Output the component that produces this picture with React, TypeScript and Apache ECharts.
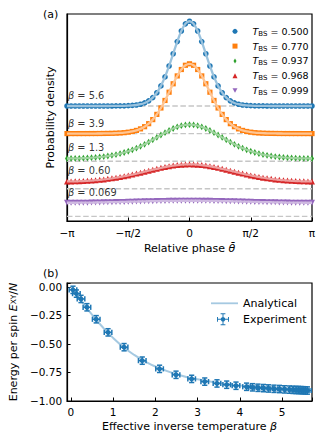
import React, { useEffect, useRef } from 'react';
import * as echarts from 'echarts';

// ---------- Panel (a) data ----------
const THETA_DEG = [-180, -174, -168, -162, -156, -150, -144, -138, -132, -126, -120, -114, -108, -102, -96, -90, -84, -78, -72, -66, -60, -54, -48, -42, -36, -30, -24, -18, -12, -6, 0, 6, 12, 18, 24, 30, 36, 42, 48, 54, 60, 66, 72, 78, 84, 90, 96, 102, 108, 114, 120, 126, 132, 138, 144, 150, 156, 162, 168, 174, 180];
const THETA_TICKS = [-180, -90, 0, 90, 180];
const THETA_TICK_LABELS = ['−π', '−π/2', '0', 'π/2', 'π'];

const T_BS = ['0.500', '0.770', '0.937', '0.968', '0.999'];
const BETA_LABELS = ['5.6', '3.9', '1.3', '0.60', '0.069'];
const OFFSETS = [1.2, 0.9, 0.6, 0.3, 0];

const DENSITY_0500 = [0, 0, 0, 0, 0, 0, 0, 0.0001, 0.0001, 0.0001, 0.0002, 0.0003, 0.0006, 0.0011, 0.0019, 0.0034, 0.0061, 0.0109, 0.0192, 0.0332, 0.0560, 0.0916, 0.1444, 0.2186, 0.3161, 0.4350, 0.5676, 0.7003, 0.8150, 0.8933, 0.9211, 0.8933, 0.8150, 0.7003, 0.5676, 0.4350, 0.3161, 0.2186, 0.1444, 0.0916, 0.0560, 0.0332, 0.0192, 0.0109, 0.0061, 0.0034, 0.0019, 0.0011, 0.0006, 0.0003, 0.0002, 0.0001, 0.0001, 0.0001, 0, 0, 0, 0, 0, 0, 0];
const DENSITY_0770 = [0.0003, 0.0003, 0.0003, 0.0004, 0.0004, 0.0005, 0.0007, 0.0008, 0.0011, 0.0016, 0.0022, 0.0031, 0.0046, 0.0068, 0.0102, 0.0154, 0.0231, 0.0346, 0.0513, 0.0750, 0.1079, 0.1520, 0.2088, 0.2786, 0.3602, 0.4500, 0.5416, 0.6269, 0.6967, 0.7427, 0.7587, 0.7427, 0.6967, 0.6269, 0.5416, 0.4500, 0.3602, 0.2786, 0.2088, 0.1520, 0.1079, 0.0750, 0.0513, 0.0346, 0.0231, 0.0154, 0.0102, 0.0068, 0.0046, 0.0031, 0.0022, 0.0016, 0.0011, 0.0008, 0.0007, 0.0005, 0.0004, 0.0004, 0.0003, 0.0003, 0.0003];
const DENSITY_0937 = [0.0295, 0.0297, 0.0304, 0.0315, 0.0330, 0.0351, 0.0378, 0.0412, 0.0454, 0.0505, 0.0565, 0.0638, 0.0725, 0.0827, 0.0946, 0.1083, 0.1241, 0.1419, 0.1619, 0.1838, 0.2075, 0.2326, 0.2585, 0.2846, 0.3101, 0.3339, 0.3552, 0.3730, 0.3863, 0.3946, 0.3975, 0.3946, 0.3863, 0.3730, 0.3552, 0.3339, 0.3101, 0.2846, 0.2585, 0.2326, 0.2075, 0.1838, 0.1619, 0.1419, 0.1241, 0.1083, 0.0946, 0.0827, 0.0725, 0.0638, 0.0565, 0.0505, 0.0454, 0.0412, 0.0378, 0.0351, 0.0330, 0.0315, 0.0304, 0.0297, 0.0295];
const DENSITY_0968 = [0.0800, 0.0802, 0.0810, 0.0824, 0.0842, 0.0867, 0.0897, 0.0933, 0.0975, 0.1024, 0.1080, 0.1142, 0.1211, 0.1286, 0.1369, 0.1457, 0.1552, 0.1651, 0.1754, 0.1860, 0.1967, 0.2074, 0.2177, 0.2276, 0.2368, 0.2451, 0.2521, 0.2579, 0.2621, 0.2647, 0.2656, 0.2647, 0.2621, 0.2579, 0.2521, 0.2451, 0.2368, 0.2276, 0.2177, 0.2074, 0.1967, 0.1860, 0.1754, 0.1651, 0.1552, 0.1457, 0.1369, 0.1286, 0.1211, 0.1142, 0.1080, 0.1024, 0.0975, 0.0933, 0.0897, 0.0867, 0.0842, 0.0824, 0.0810, 0.0802, 0.0800];
const DENSITY_0999 = [0.1484, 0.1484, 0.1486, 0.1488, 0.1492, 0.1497, 0.1503, 0.1510, 0.1518, 0.1526, 0.1536, 0.1546, 0.1556, 0.1567, 0.1578, 0.1590, 0.1601, 0.1613, 0.1624, 0.1635, 0.1645, 0.1655, 0.1665, 0.1673, 0.1681, 0.1688, 0.1693, 0.1698, 0.1701, 0.1702, 0.1703, 0.1702, 0.1701, 0.1698, 0.1693, 0.1688, 0.1681, 0.1673, 0.1665, 0.1655, 0.1645, 0.1635, 0.1624, 0.1613, 0.1601, 0.1590, 0.1578, 0.1567, 0.1556, 0.1546, 0.1536, 0.1526, 0.1518, 0.1510, 0.1503, 0.1497, 0.1492, 0.1488, 0.1486, 0.1484, 0.1484];
const DENSITIES = [DENSITY_0500, DENSITY_0770, DENSITY_0937, DENSITY_0968, DENSITY_0999];

// ---------- Panel (b) data ----------
const BETA_EXP = [0.05, 0.13, 0.24, 0.38, 0.60, 0.88, 1.26, 1.69, 2.10, 2.49, 2.86, 3.17, 3.46, 3.69, 3.91, 4.16, 4.30, 4.43, 4.56, 4.68, 4.81, 4.94, 5.06, 5.18, 5.26, 5.33, 5.39, 5.45, 5.50, 5.55, 5.60];
const ENERGY_EXP = [-0.025, -0.058, -0.105, -0.178, -0.283, -0.398, -0.528, -0.646, -0.718, -0.770, -0.806, -0.830, -0.846, -0.857, -0.866, -0.875, -0.880, -0.884, -0.887, -0.890, -0.893, -0.895, -0.898, -0.900, -0.902, -0.903, -0.904, -0.905, -0.906, -0.907, -0.908];
const BETA_ERR = [0.09, 0.09, 0.09, 0.09, 0.09, 0.09, 0.09, 0.09, 0.09, 0.09, 0.09, 0.09, 0.09, 0.09, 0.09, 0.09, 0.09, 0.09, 0.09, 0.09, 0.09, 0.09, 0.09, 0.09, 0.09, 0.09, 0.09, 0.09, 0.09, 0.09, 0.09];
const ENERGY_ERR = [0.032, 0.032, 0.032, 0.032, 0.032, 0.032, 0.032, 0.032, 0.032, 0.032, 0.032, 0.032, 0.032, 0.032, 0.032, 0.032, 0.032, 0.032, 0.032, 0.032, 0.032, 0.032, 0.032, 0.032, 0.032, 0.032, 0.032, 0.032, 0.032, 0.032, 0.032];
const BETA_ANALYTIC = [0, 0.1, 0.25, 0.5, 0.75, 1, 1.25, 1.5, 1.75, 2, 2.5, 3, 3.5, 4, 4.5, 5, 5.6];
const ENERGY_ANALYTIC = [0, -0.0499, -0.1240, -0.2425, -0.3509, -0.4464, -0.5280, -0.5961, -0.6521, -0.6978, -0.7650, -0.8100, -0.8411, -0.8635, -0.8803, -0.8934, -0.9060];

// ---------- styles ----------
const FONT = 'DejaVu Sans';
const COLORS = ['#1f77b4', '#ff7f0e', '#2ca02c', '#d62728', '#9467bd'];
const LIGHT = ['#9ac2dd', '#ffc593', '#a0d4a0', '#ed9e9e', '#cfbae1'];
const ANALYTIC_COLOR = 'rgba(31,119,180,0.4)';
const SYMBOLS = ['circle', 'rect', 'diamond', 'triangle', 'path://M0,0L10,0L5,9Z'];
const SYMBOL_SIZES: any[] = [5.6, 5.2, [4, 6.8], 6, 6];
const LEGEND_ICONS = ['circle', 'rect', 'path://M0,0M10,10M5,0L8,5L5,10L2,5Z', 'triangle', 'path://M0,0L10,0L5,9Z'];
const LINE_ICON = 'path://M0,0M27,14M0,6.1h27v1.8h-27z';
const ERRBAR_ICON = 'path://M0,9.2h20v1.6h-20z M9.2,0h1.6v20h-1.6z M0,6h1.6v8h-1.6z M18.4,6h1.6v8h-1.6z M6,0h8v1.6h-8z M6,18.4h8v1.6h-8z M8.3,6.5h3.4l1.8,1.8v3.4l-1.8,1.8h-3.4l-1.8,-1.8v-3.4z';

const axisLineStyle = { show: true, onZero: false, lineStyle: { color: '#000', width: 1.2 } };

export default function App() {
  const ref = useRef<HTMLDivElement>(null);
  useEffect(() => {
    if (!ref.current) return;
    const chart = echarts.init(ref.current, undefined, { renderer: 'svg' });
    const series: any[] = [];

    // dashed baselines
    OFFSETS.forEach((off, i) => {
      series.push({
        name: 'base' + i, type: 'line', xAxisIndex: 0, yAxisIndex: 0, z: 1, silent: true,
        symbol: 'none', data: [[THETA_DEG[0], off], [THETA_DEG[THETA_DEG.length - 1], off]],
        lineStyle: { color: '#c6c6c6', width: 1.4, type: [5.5, 2.6] },
      });
    });
    DENSITIES.forEach((dens, i) => {
      const pts = THETA_DEG.map((t, j) => [t, dens[j] + OFFSETS[i]]);
      series.push({
        name: T_BS[i], type: 'scatter', xAxisIndex: 0, yAxisIndex: 0, z: 2, silent: true,
        symbol: SYMBOLS[i], symbolSize: SYMBOL_SIZES[i], data: pts,
        itemStyle: { color: COLORS[i], opacity: 1 },
      });
      series.push({
        name: 'fit' + i, type: 'line', xAxisIndex: 0, yAxisIndex: 0, z: 3, silent: true,
        symbol: 'none', data: pts, smooth: 0.3,
        lineStyle: { color: LIGHT[i], width: 2.3 },
      });
      series.push({
        name: 'lab' + i, type: 'scatter', xAxisIndex: 0, yAxisIndex: 0, z: 5, silent: true,
        symbolSize: 0, data: [pts[0]],
        label: {
          show: true, position: 'right', distance: 1, offset: [0, -10.5],
          formatter: '{i|β} = ' + BETA_LABELS[i],
          fontFamily: FONT, fontSize: 9.8, color: '#000',
          rich: { i: { fontFamily: FONT, fontSize: 9.8, fontStyle: 'italic', color: '#000' } },
        },
      });
    });

    // panel (b)
    series.push({
      name: 'Analytical', type: 'line', xAxisIndex: 1, yAxisIndex: 1, z: 1, silent: true,
      symbol: 'none', smooth: true,
      data: BETA_ANALYTIC.map((b, j) => [b, ENERGY_ANALYTIC[j]]),
      lineStyle: { color: ANALYTIC_COLOR, width: 2 },
      itemStyle: { color: ANALYTIC_COLOR },
    });
    series.push({
      name: 'ExperimentErr', type: 'custom', xAxisIndex: 1, yAxisIndex: 1, z: 2, silent: true,
      data: BETA_EXP.map((b, j) => [b, ENERGY_EXP[j], BETA_ERR[j], ENERGY_ERR[j]]),
      encode: { x: 0, y: 1 },
      renderItem: (params: any, api: any) => {
        const x = api.value(0), y = api.value(1), dx = api.value(2), dy = api.value(3);
        const l = api.coord([x - dx, y]);
        const r = api.coord([x + dx, y]);
        const t = api.coord([x, y + dy]);
        const b = api.coord([x, y - dy]);
        const cap = 2.6;
        const style = { stroke: COLORS[0], lineWidth: 1.5 };
        const ln = (x1: number, y1: number, x2: number, y2: number) => ({ type: 'line', shape: { x1, y1, x2, y2 }, style });
        return {
          type: 'group',
          children: [
            ln(l[0], l[1], r[0], r[1]),
            ln(t[0], t[1], b[0], b[1]),
            ln(l[0], l[1] - cap, l[0], l[1] + cap),
            ln(r[0], r[1] - cap, r[0], r[1] + cap),
            ln(t[0] - cap, t[1], t[0] + cap, t[1]),
            ln(b[0] - cap, b[1], b[0] + cap, b[1]),
          ],
        };
      },
    });
    series.push({
      name: 'Experiment', type: 'scatter', xAxisIndex: 1, yAxisIndex: 1, z: 3, silent: true,
      symbol: 'circle', symbolSize: 5,
      data: BETA_EXP.map((b, j) => [b, ENERGY_EXP[j]]),
      itemStyle: { color: COLORS[0], opacity: 1 },
    });

    const nameStyle = () => ({
      fontFamily: FONT, fontSize: 11, color: '#000',
      rich: {
        i: { fontFamily: FONT, fontSize: 11, fontStyle: 'italic', color: '#000' },
        s: { fontFamily: FONT, fontSize: 7.5, color: '#000' },
      },
    });
    const tickStyle = { show: true, inside: true, length: 3.5, lineStyle: { color: '#000', width: 1 } };

    const option: any = {
      animation: false,
      backgroundColor: '#fff',
      textStyle: { fontFamily: FONT },
      grid: [
        { left: 67, top: 14, width: 245, height: 207, show: true, borderColor: '#000', borderWidth: 1.2, containLabel: false },
        { left: 67, top: 283, width: 245, height: 118, show: true, borderColor: '#000', borderWidth: 1.2, containLabel: false },
      ],
      xAxis: [
        {
          gridIndex: 0, type: 'value', min: THETA_TICKS[0], max: THETA_TICKS[4], interval: 90,
          axisLine: axisLineStyle, axisTick: tickStyle,
          axisLabel: {
            margin: 6, fontSize: 10.5, fontFamily: FONT, color: '#000',
            formatter: (v: number) => THETA_TICK_LABELS[THETA_TICKS.indexOf(Math.round(v))] ?? '',
          },
          splitLine: { show: false },
          name: 'Relative phase {i|θ̄}', nameLocation: 'middle', nameGap: 22,
          nameTextStyle: nameStyle(),
        },
        {
          gridIndex: 1, type: 'value', min: -0.09, max: 5.71, splitNumber: 5,
          axisLine: axisLineStyle, axisTick: tickStyle,
          axisLabel: {
            margin: 5, fontSize: 10.5, fontFamily: FONT, color: '#000',
            formatter: (v: number) => (Math.abs(v - Math.round(v)) > 1e-6 ? '' : String(Math.round(v))),
          },
          splitLine: { show: false },
          name: 'Effective inverse temperature {i|β}', nameLocation: 'middle', nameGap: 20,
          nameTextStyle: nameStyle(),
        },
      ],
      yAxis: [
        {
          gridIndex: 0, type: 'value', min: -0.05, max: 2.2,
          axisLine: axisLineStyle, axisTick: { show: false }, axisLabel: { show: false },
          splitLine: { show: false },
          name: 'Probability density', nameLocation: 'middle', nameGap: 11,
          nameTextStyle: nameStyle(),
        },
        {
          gridIndex: 1, type: 'value', min: -1, max: 0.035, interval: 0.25,
          axisLine: axisLineStyle, axisTick: tickStyle,
          axisLabel: {
            margin: 5, fontSize: 10.5, fontFamily: FONT, color: '#000',
            formatter: (v: number) => (Math.abs(v * 4 - Math.round(v * 4)) > 1e-6 ? '' : v.toFixed(2).replace('-', '−')),
          },
          splitLine: { show: false },
          name: 'Energy per spin {i|E}{s|XY}/{i|N}', nameLocation: 'middle', nameGap: 46,
          nameTextStyle: nameStyle(),
        },
      ],
      legend: [
        {
          orient: 'vertical', left: 227.5, top: 21.3, itemWidth: 5, itemHeight: 5, itemGap: 3.8,
          selectedMode: false,
          data: T_BS.map((n, i) => ({ name: n, icon: LEGEND_ICONS[i] })),
          formatter: (n: string) => '{i|T}{s|BS}{n| = ' + n + '}',
          textStyle: {
            padding: [0, 0, 0, 10], fontFamily: FONT, fontSize: 9.5, color: '#000',
            rich: {
              i: { fontFamily: FONT, fontSize: 9.5, fontStyle: 'italic', color: '#000', lineHeight: 12 },
              s: { fontFamily: FONT, fontSize: 7, color: '#000', lineHeight: 6, verticalAlign: 'bottom' },
              n: { fontFamily: FONT, fontSize: 9.5, color: '#000', lineHeight: 12 },
            },
          },
        },
        {
          orient: 'vertical', left: 206, top: 291.3, itemWidth: 27, itemHeight: 14,
          selectedMode: false, data: [{ name: 'Analytical', icon: LINE_ICON }],
          textStyle: { fontFamily: FONT, fontSize: 11, color: '#000' },
        },
        {
          orient: 'vertical', left: 212, top: 308.3, itemWidth: 12, itemHeight: 12,
          selectedMode: false, data: [{ name: 'Experiment', icon: ERRBAR_ICON }],
          itemStyle: { color: COLORS[0] },
          textStyle: { padding: [0, 0, 0, 9], fontFamily: FONT, fontSize: 11, color: '#000' },
        },
      ],
      graphic: [
        { type: 'text', left: 43, top: 8.5, style: { text: '(a)', font: `11px "${FONT}"`, fill: '#000' } },
        { type: 'text', left: 43, top: 267.5, style: { text: '(b)', font: `11px "${FONT}"`, fill: '#000' } },
      ],
      series,
    };
    chart.setOption(option);
    return () => chart.dispose();
  }, []);
  return <div ref={ref} style={{ position: 'fixed', left: 0, top: 0, width: 326, height: 446, background: '#fff' }} />;
}
